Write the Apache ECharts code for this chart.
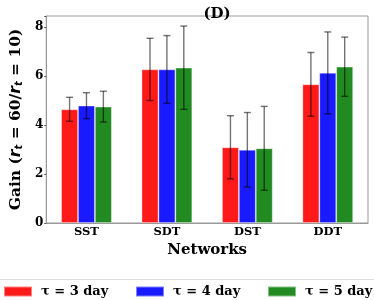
<!DOCTYPE html>
<html>
<head>
<meta charset="utf-8">
<script src="https://cdn.jsdelivr.net/npm/echarts@6/dist/echarts.min.js"></script>
<style>html,body{margin:0;padding:0;background:#fff}#c{width:374px;height:300px}</style>
</head>
<body>
<div id="c"></div>
<script>
const categories = ['SST', 'SDT', 'DST', 'DDT'];
const seriesNames = ['τ = 3 day', 'τ = 4 day', 'τ = 5 day'];
const tau3 = [4.64, 6.27, 3.09, 5.66];
const tau4 = [4.79, 6.27, 2.99, 6.13];
const tau5 = [4.75, 6.34, 3.05, 6.38];
const err3 = [0.49, 1.27, 1.29, 1.30];
const err4 = [0.53, 1.38, 1.52, 1.67];
const err5 = [0.63, 1.70, 1.71, 1.21];
const yTicks = [0, 2, 4, 6, 8];

const values = [tau3, tau4, tau5];
const errs = [err3, err4, err5];
const colors = ['#ff1a1a', '#1a1aff', '#218b21'];
const FONT = 'DejaVu Serif';

const barSeries = values.map((v, i) => ({
  name: seriesNames[i],
  type: 'bar',
  data: v,
  barWidth: '21%',
  barGap: '0%',
  itemStyle: { color: colors[i], borderColor: 'rgba(255,255,255,0.45)', borderWidth: 0.8 },
  z: 2
}));

const errSeries = values.map((v, i) => ({
  type: 'custom',
  silent: true,
  z: 5,
  data: v.map((val, k) => [k, val - errs[i][k], val + errs[i][k]]),
  renderItem: function (params, api) {
    const k = api.value(0);
    const lo = api.coord([k, api.value(1)]);
    const hi = api.coord([k, api.value(2)]);
    const bw = api.size([1, 0])[0] * 0.21;
    const x = lo[0] + (i - 1) * bw;
    const c = 3.5;
    const st = { stroke: 'rgba(0,0,0,0.55)', lineWidth: 1.4 };
    return {
      type: 'group',
      children: [
        { type: 'line', shape: { x1: x, y1: lo[1], x2: x, y2: hi[1] }, style: st },
        { type: 'line', shape: { x1: x - c, y1: lo[1], x2: x + c, y2: lo[1] }, style: st },
        { type: 'line', shape: { x1: x - c, y1: hi[1], x2: x + c, y2: hi[1] }, style: st }
      ]
    };
  }
}));

const legendLefts = [3, 135, 267];
const legends = seriesNames.map((n, i) => ({
  left: legendLefts[i], top: 285, padding: 0,
  itemWidth: 28, itemHeight: 10,
  icon: 'rect',
  data: [n],
  textStyle: { fontFamily: FONT, fontWeight: 'bold', fontSize: 13, color: '#000', padding: [0, 0, 0, 4] }
}));

const chart = echarts.init(document.getElementById('c'));
chart.setOption({
  animation: false,
  backgroundColor: '#fff',
  title: {
    text: '(D)',
    left: 212, top: 2,
    textAlign: 'center',
    textStyle: { fontFamily: FONT, fontWeight: 'bold', fontSize: 15, color: '#000' }
  },
  grid: { left: 29, right: 6, top: 16, bottom: 77, show: true, borderColor: '#999', borderWidth: 1 },
  legend: legends,
  xAxis: {
    type: 'category',
    data: categories,
    name: 'Networks',
    nameLocation: 'middle',
    nameGap: 17,
    nameTextStyle: { fontFamily: FONT, fontWeight: 'bold', fontSize: 15, color: '#000' },
    axisLine: { show: true, lineStyle: { color: '#999' } },
    axisTick: { show: false },
    axisLabel: { fontFamily: FONT, fontWeight: 'bold', fontSize: 11.5, color: '#000', margin: 3 }
  },
  yAxis: {
    type: 'value',
    min: 0, max: 8.45, interval: 2,
    name: '{n|Gain (}{i|r}{s|t}{n| = 60/}{i|r}{s|t}{n| = 10)}',
    nameLocation: 'middle',
    nameRotate: 90,
    nameGap: 12,
    nameTextStyle: {
      rich: {
        n: { fontFamily: FONT, fontWeight: 'bold', fontSize: 15.5, color: '#000' },
        i: { fontFamily: 'DejaVu Sans', fontStyle: 'italic', fontWeight: 'bold', fontSize: 15.5, color: '#000' },
        s: { fontFamily: 'DejaVu Sans', fontStyle: 'italic', fontWeight: 'bold', fontSize: 10, color: '#000', verticalAlign: 'bottom', padding: [6, 0, 0, 0] }
      }
    },
    splitLine: { show: false },
    axisLine: { show: true, lineStyle: { color: '#999' } },
    axisTick: { show: true, length: 2, lineStyle: { color: '#555' } },
    axisLabel: {
      fontFamily: FONT, fontWeight: 'bold', fontSize: 12, color: '#000', margin: 3,
      formatter: v => (yTicks.indexOf(v) >= 0 ? String(v) : '')
    }
  },
  graphic: [{
    type: 'line',
    shape: { x1: 0, y1: 279.5, x2: 374, y2: 279.5 },
    style: { stroke: '#ddd', lineWidth: 1 }
  }],
  series: barSeries.concat(errSeries)
});
</script>
</body>
</html>
